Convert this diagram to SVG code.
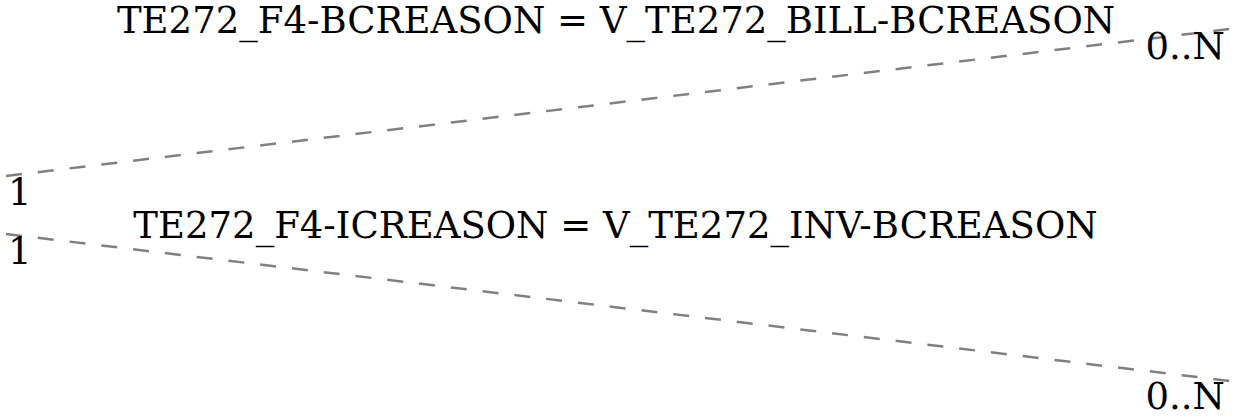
<svg xmlns="http://www.w3.org/2000/svg" width="1236" height="417" viewBox="0 0 1236 417">
<style>
.t{font-family:"DejaVu Serif",serif;font-size:37px;fill:#000}
.c{fill:none;stroke:#808080;stroke-width:2.5;stroke-dasharray:16,16}
</style>
<rect width="1236" height="417" fill="#fff"/>
<g id="connectors">
<line class="c" x1="6" y1="176" x2="1230" y2="29"/>
<line class="c" x1="6" y1="234" x2="1230" y2="381"/>
</g>
<g id="rel1">
<text class="t" x="616" y="33" text-anchor="middle">TE272_F4-BCREASON = V_TE272_BILL-BCREASON</text>
<text class="t" x="8" y="205">1</text>
<text class="t" x="1225" y="59" text-anchor="end">0..N</text>
</g>
<g id="rel2">
<text class="t" x="615.5" y="238" text-anchor="middle">TE272_F4-ICREASON = V_TE272_INV-BCREASON</text>
<text class="t" x="8" y="264">1</text>
<text class="t" x="1225" y="409" text-anchor="end">0..N</text>
</g>
</svg>
